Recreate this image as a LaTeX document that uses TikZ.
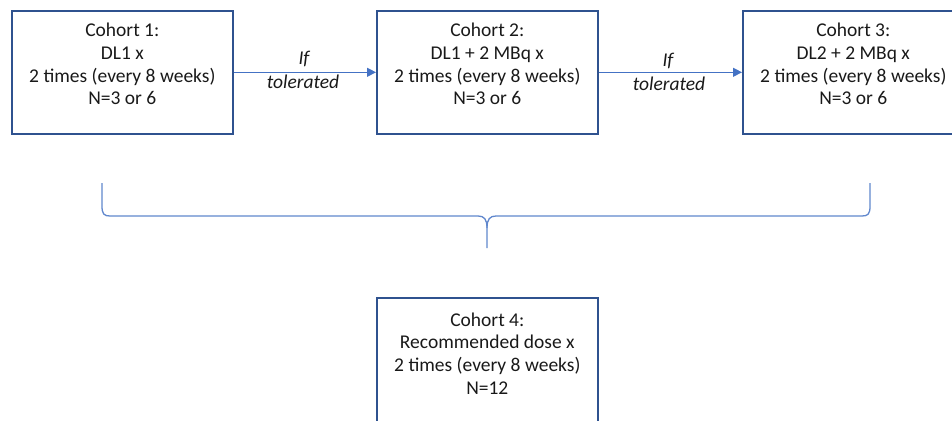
\documentclass[tikz,border=0pt]{standalone}
\usepackage{fontspec}
\setmainfont{Carlito}
\usetikzlibrary{arrows.meta}
\definecolor{boxline}{HTML}{2F528F}
\definecolor{arrowblue}{HTML}{4472C4}
\begin{document}
\begin{tikzpicture}[x=1pt,y=-1pt,
  cohortbox/.style={draw=boxline,line width=1.6pt,minimum width=221pt,minimum height=123pt,inner sep=0pt,anchor=north west},
  cohorttext/.style={align=center,font=\fontsize{19.5}{22.8}\selectfont,inner sep=0pt,text=black!90},
  flowarrow/.style={draw=arrowblue,line width=1.2pt,-{Triangle[length=9pt,width=9pt]}},
  armlabel/.style={font=\fontsize{19.5}{22}\selectfont\itshape,inner sep=0pt,text=black!90},
  bracepath/.style={draw=arrowblue!85,line width=1.3pt}]
\useasboundingbox (0,0) rectangle (952,420);
\begin{scope}
\clip (0,0) rectangle (952,420);
\node[cohortbox] (c1) at (11,10) {};
\node[cohortbox] (c2) at (376,10) {};
\node[cohortbox] (c3) at (742,10) {};
\node[cohortbox,minimum height=130pt] (c4) at (376,297) {};
\node[cohorttext] (t1) at ([yshift=-54pt]c1.north) {Cohort 1:\\DL1 x\\2 times (every 8 weeks)\\N=3 or 6};
\node[cohorttext] (t2) at ([yshift=-54pt]c2.north) {Cohort 2:\\DL1 + 2 MBq x\\2 times (every 8 weeks)\\N=3 or 6};
\node[cohorttext] (t3) at ([yshift=-54pt]c3.north) {Cohort 3:\\DL2 + 2 MBq x\\2 times (every 8 weeks)\\N=3 or 6};
\node[cohorttext] (t4) at ([yshift=-56.5pt]c4.north) {Cohort 4:\\Recommended dose x\\2 times (every 8 weeks)\\N=12};
\end{scope}
\draw[flowarrow] (c1.east) -- (c2.west);
\draw[flowarrow] (c2.east) -- (c3.west);
\node[armlabel] (l1a) at (304,59) {If};
\node[armlabel] (l1b) at (303,82) {tolerated};
\node[armlabel] (l2a) at (668,61) {If};
\node[armlabel] (l2b) at (669,84) {tolerated};
\coordinate (bl) at (102,183);
\coordinate (br) at (870,183);
\coordinate (bt) at (487,248);
\draw[bracepath] (bl) -- (102,206) .. controls (102,214) and (104,216) .. (110,216)
  -- (478,216) .. controls (484,216) and (487,219) .. (487,228) -- (bt);
\draw[bracepath] (br) -- (870,206) .. controls (870,214) and (868,216) .. (862,216)
  -- (496,216) .. controls (490,216) and (487,219) .. (487,228);
\end{tikzpicture}
\end{document}
